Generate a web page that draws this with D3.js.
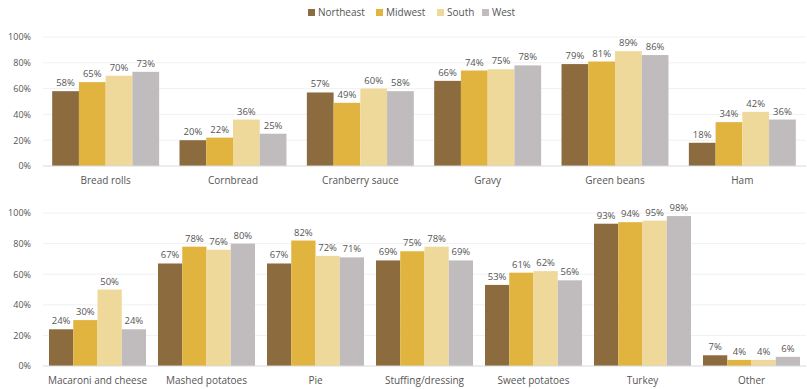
<!DOCTYPE html>
<html>
<head>
<meta charset="utf-8">
<script src="https://cdn.jsdelivr.net/npm/d3@7"></script>
<style>
  body { margin: 0; background: #fff; }
  svg text { font-family: "Open Sans", "DejaVu Sans", sans-serif; fill: #555; }
</style>
</head>
<body>
<svg width="807" height="389"></svg>
<script>
const REGIONS = ['Northeast', 'Midwest', 'South', 'West'];
const COLORS = ['#8c6b3e', '#e0b43f', '#efd99a', '#c0bcbe'];

const TOP_DISHES = ['Bread rolls', 'Cornbread', 'Cranberry sauce', 'Gravy', 'Green beans', 'Ham'];
const TOP_VALUES = [
    [58, 65, 70, 73],
    [20, 22, 36, 25],
    [57, 49, 60, 58],
    [66, 74, 75, 78],
    [79, 81, 89, 86],
    [18, 34, 42, 36],
];

const BOTTOM_DISHES = ['Macaroni and cheese', 'Mashed potatoes', 'Pie', 'Stuffing/dressing', 'Sweet potatoes', 'Turkey', 'Other'];
const BOTTOM_VALUES = [
    [24, 30, 50, 24],
    [67, 78, 76, 80],
    [67, 82, 72, 71],
    [69, 75, 78, 69],
    [53, 61, 62, 56],
    [93, 94, 95, 98],
    [7, 4, 4, 6],
];

const Y_TICKS = [0, 20, 40, 60, 80, 100];

const svg = d3.select('svg');

// legend
const legend = svg.append('g');
const LEGEND_X = [308, 376, 437, 482];
REGIONS.forEach((r, i) => {
    legend.append('rect')
        .attr('x', LEGEND_X[i]).attr('y', 9)
        .attr('width', 7).attr('height', 7)
        .attr('fill', COLORS[i]);
    legend.append('text')
        .attr('x', LEGEND_X[i] + 10).attr('y', 16)
        .attr('font-size', 10)
        .text(r);
});

function panel(dishes, values, left, right, top, bottom, pad) {
    const x = d3.scaleBand().domain(dishes).range([left, right])
        .paddingInner(pad).paddingOuter(pad / 2);
    const x1 = d3.scaleBand().domain(REGIONS).range([0, x.bandwidth()]);
    const y = d3.scaleLinear().domain([0, 100]).range([bottom, top]);

    const g = svg.append('g');

    // gridlines
    g.append('g')
        .selectAll('line')
        .data(Y_TICKS.slice(1))
        .enter()
        .append('line')
        .attr('x1', 43).attr('x2', right)
        .attr('y1', d => y(d)).attr('y2', d => y(d))
        .attr('stroke', '#f1f1f1');

    // y axis labels
    const yAxis = g.append('g')
        .attr('transform', 'translate(34,0)')
        .call(d3.axisLeft(y).tickValues(Y_TICKS).tickFormat(d => d + '%').tickSize(0));
    yAxis.select('.domain').remove();
    yAxis.selectAll('text').attr('font-size', 9).attr('fill', '#555')
        .attr('font-family', '"Open Sans", sans-serif').attr('dx', 0);

    const groups = g.selectAll('.grp')
        .data(dishes)
        .enter()
        .append('g')
        .attr('transform', d => `translate(${x(d)},0)`);

    groups.selectAll('rect')
        .data((d, i) => values[i].map((v, j) => ({ region: REGIONS[j], value: v, c: COLORS[j] })))
        .enter()
        .append('rect')
        .attr('x', d => x1(d.region))
        .attr('width', x1.bandwidth())
        .attr('y', d => y(d.value))
        .attr('height', d => y(0) - y(d.value))
        .attr('fill', d => d.c);

    groups.selectAll('.lbl')
        .data((d, i) => values[i].map((v, j) => ({ region: REGIONS[j], value: v })))
        .enter()
        .append('text')
        .attr('x', d => x1(d.region) + x1.bandwidth() / 2)
        .attr('y', d => y(d.value) - 5)
        .attr('text-anchor', 'middle')
        .attr('font-size', 9.5)
        .text(d => d.value + '%');

    // baseline
    g.append('line')
        .attr('x1', 43).attr('x2', right)
        .attr('y1', y(0)).attr('y2', y(0))
        .attr('stroke', '#d9d9d9');

    // category labels
    g.append('g')
        .selectAll('text')
        .data(dishes)
        .enter()
        .append('text')
        .attr('x', d => x(d) + x.bandwidth() / 2)
        .attr('y', bottom + 18)
        .attr('text-anchor', 'middle')
        .attr('font-size', 10)
        .text(d => d);
}

panel(TOP_DISHES, TOP_VALUES, 42, 806, 37, 166, 0.16);
panel(BOTTOM_DISHES, BOTTOM_VALUES, 43, 806, 213, 366, 0.11);
</script>
</body>
</html>
